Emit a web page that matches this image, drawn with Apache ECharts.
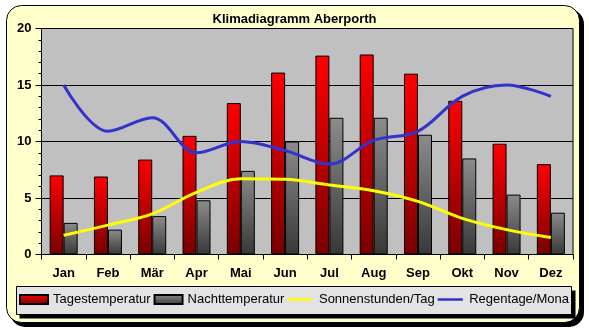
<!DOCTYPE html>
<html><head><meta charset="utf-8">
<script src="https://cdn.jsdelivr.net/npm/echarts@6/dist/echarts.min.js"></script>
<style>html,body{margin:0;padding:0;background:#fff}#c{width:589px;height:330px}</style>
</head><body><div id="c"></div>
<script>
const months = ['Jan','Feb','Mär','Apr','Mai','Jun','Jul','Aug','Sep','Okt','Nov','Dez'];
const tagestemperatur = [7.0, 6.9, 8.4, 10.5, 13.4, 16.1, 17.6, 17.7, 16.0, 13.6, 9.8, 8.0];
const nachttemperatur = [2.8, 2.2, 3.4, 4.8, 7.4, 10.0, 12.1, 12.1, 10.6, 8.5, 5.3, 3.7];
const sonnenstunden = [1.7, 2.6, 3.6, 5.5, 6.7, 6.65, 6.15, 5.65, 4.7, 3.2, 2.2, 1.5];
const regentage = [15.0, 10.9, 12.1, 9.0, 10.0, 9.2, 8.0, 10.1, 10.9, 14.0, 15.0, 14.0];
const yTicks = [0, 5, 10, 15, 20];

const chart = echarts.init(document.getElementById('c'), null, {renderer:'canvas'});
const redGrad = new echarts.graphic.LinearGradient(0,0,0,1,[{offset:0,color:'#ff0000'},{offset:1,color:'#780000'}]);
const grayGrad = new echarts.graphic.LinearGradient(0,0,0,1,[{offset:0,color:'#8c8c8c'},{offset:1,color:'#383838'}]);
const font = 'Liberation Sans, Arial, sans-serif';
const lineIcon = 'path://M0,0L28,0L28,0.01ZM0,3.5L28,3.5L28,6.5L0,6.5ZM0,10L28,10L28,9.99Z';

chart.setOption({
  animation:false,
  textStyle:{fontFamily:font},
  title:{text:'Klimadiagramm Aberporth', left:'center', top:8,
    textStyle:{fontSize:13, fontWeight:'bold', color:'#000', fontFamily:font}},
  graphic:[
    {type:'rect', z:-20, shape:{x:10,y:9,width:574,height:318,r:15}, style:{fill:'#000'}},
    {type:'rect', z:-19, shape:{x:6.5,y:5.5,width:573,height:317,r:15}, style:{fill:'#ffffcc', stroke:'#000', lineWidth:1}},
    {type:'rect', z:-18, shape:{x:19.5,y:290.5,width:556,height:28}, style:{fill:'#000'}},
    {type:'rect', z:-17, shape:{x:16.5,y:286.5,width:555,height:28}, style:{fill:'#e3e3e3', stroke:'#000', lineWidth:1}}
  ],
  legend:{
    left:19, top:293, padding:0, itemGap:3, itemWidth:28, itemHeight:9,
    textStyle:{fontSize:13, color:'#000', fontFamily:font},
    data:[
      {name:'Tagestemperatur', icon:'rect'},
      {name:'Nachttemperatur', icon:'rect'},
      {name:'Sonnenstunden/Tag', icon:lineIcon},
      {name:'Regentage/Monat', icon:lineIcon, textStyle:{width:102, overflow:'truncate', ellipsis:''}}
    ]
  },
  grid:{left:41.5, top:28.5, right:16, bottom:75.5, show:true, backgroundColor:'#c0c0c0', borderColor:'#000', borderWidth:1},
  xAxis:{
    type:'category', data:months, boundaryGap:true,
    axisLine:{lineStyle:{color:'#000', width:1}},
    axisTick:{show:true, length:5, interval:0, lineStyle:{color:'#000'}},
    axisLabel:{fontSize:13, fontWeight:'bold', color:'#000', margin:12, interval:0, fontFamily:font}
  },
  yAxis:{
    type:'value', min:yTicks[0], max:yTicks[yTicks.length-1], interval:5,
    axisLine:{show:true, lineStyle:{color:'#000'}},
    axisTick:{show:true, length:6, lineStyle:{color:'#000'}},
    minorTick:{show:true, splitNumber:5, length:3, lineStyle:{color:'#000'}},
    splitLine:{show:true, lineStyle:{color:'#000', width:1}},
    axisLabel:{fontSize:13, fontWeight:'bold', color:'#000', margin:10, fontFamily:font}
  },
  series:[
    {name:'Tagestemperatur', type:'bar', data:tagestemperatur, barWidth:14, barGap:'0%',
      itemStyle:{color:redGrad, borderColor:'#000', borderWidth:1}},
    {name:'Nachttemperatur', type:'bar', data:nachttemperatur, barWidth:14, barGap:'0%',
      itemStyle:{color:grayGrad, borderColor:'#000', borderWidth:1}},
    {name:'Sonnenstunden/Tag', type:'line', data:sonnenstunden, smooth:0.35, symbol:'none', z:5,
      lineStyle:{color:'#ffff00', width:3}, itemStyle:{color:'#ffff00'}},
    {name:'Regentage/Monat', type:'line', data:regentage, smooth:0.35, symbol:'none', z:6,
      lineStyle:{color:'#3333cc', width:3}, itemStyle:{color:'#3333cc'}}
  ]
});
</script></body></html>
